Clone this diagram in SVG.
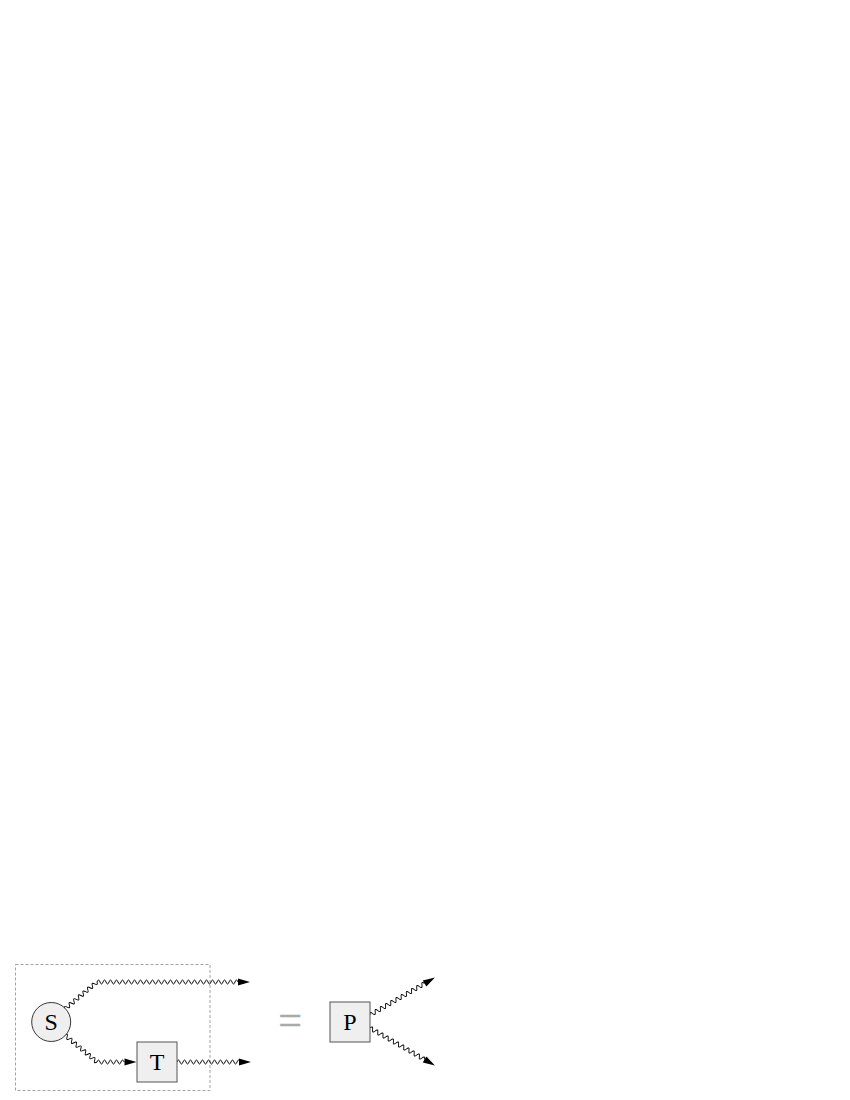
<svg xmlns="http://www.w3.org/2000/svg" xmlns:xlink="http://www.w3.org/1999/xlink" width="850" height="1100" viewBox="0 0 850 1100">
<style>
.wave{fill:none;stroke:#000;stroke-width:0.95;stroke-linejoin:round}
.ah{fill:#000;stroke:none}
.frame{fill:none;stroke:#999;stroke-width:0.9;stroke-dasharray:3,2}
.nodefill{fill:#efefef}
.lbl{font-family:"Liberation Serif","Times New Roman",serif;font-size:24px;fill:#000;text-anchor:middle}
.eq{font-family:"Liberation Serif","Times New Roman",serif;font-size:42px;fill:#aaa;stroke:#aaa;stroke-width:0.5;text-anchor:middle}
</style>
<defs>
<path id="ah" d="M0,-3.6 L12,0 L0,3.6 Z"/>
</defs>
<rect width="850" height="1100" fill="#fff"/>
<rect id="group-frame" class="frame" x="15.5" y="964.5" width="194.5" height="126"/>
<g id="connectors">
  <g id="edge-S-out-top">
    <path class="wave" transform="translate(64.8,1009) rotate(-40)" d="M0,0 q1.5,-4 3,0 t3,0 3,0 3,0 3,0 3,0 3,0 3,0 3,0 3,0 3,0 3,0 3,0 3,0"/>
    <path class="wave" transform="translate(97,982)" d="M0,0 q1.5,-4 3,0 t3,0 3,0 3,0 3,0 3,0 3,0 3,0 3,0 3,0 3,0 3,0 3,0 3,0 3,0 3,0 3,0 3,0 3,0 3,0 3,0 3,0 3,0 3,0 3,0 3,0 3,0 3,0 3,0 3,0 3,0 3,0 3,0 3,0 3,0 3,0 3,0 3,0 3,0 3,0 3,0 3,0 3,0 3,0 3,0 3,0 3,0"/>
    <use xlink:href="#ah" class="ah" transform="translate(238,982)"/>
  </g>
  <g id="edge-S-T">
    <path class="wave" transform="translate(64.8,1035) rotate(40)" d="M0,0 q1.5,-4 3,0 t3,0 3,0 3,0 3,0 3,0 3,0 3,0 3,0 3,0 3,0 3,0 3,0 3,0"/>
    <path class="wave" transform="translate(97,1062)" d="M0,0 q1.5,-4 3,0 t3,0 3,0 3,0 3,0 3,0 3,0 3,0 3,0"/>
    <use xlink:href="#ah" class="ah" transform="translate(124.5,1062)"/>
  </g>
  <g id="edge-T-out">
    <path class="wave" transform="translate(177,1062)" d="M0,0 q1.5,-4 3,0 t3,0 3,0 3,0 3,0 3,0 3,0 3,0 3,0 3,0 3,0 3,0 3,0 3,0 3,0 3,0 3,0 3,0 3,0 3,0 3,0"/>
    <use xlink:href="#ah" class="ah" transform="translate(239,1062)"/>
  </g>
  <g id="edge-P-out-top" transform="translate(370,1015) rotate(-30)">
    <path class="wave" d="M0,0 q1.5,-4 3,0 t3,0 3,0 3,0 3,0 3,0 3,0 3,0 3,0 3,0 3,0 3,0 3,0 3,0 3,0 3,0 3,0 3,0 3,0 3,0 3,0"/>
    <use xlink:href="#ah" class="ah" transform="translate(63,0)"/>
  </g>
  <g id="edge-P-out-bottom" transform="translate(370,1028) rotate(30)">
    <path class="wave" d="M0,0 q1.5,-4 3,0 t3,0 3,0 3,0 3,0 3,0 3,0 3,0 3,0 3,0 3,0 3,0 3,0 3,0 3,0 3,0 3,0 3,0 3,0 3,0 3,0"/>
    <use xlink:href="#ah" class="ah" transform="translate(63,0)"/>
  </g>
</g>
<g id="node-S">
  <circle class="nodefill" cx="51.2" cy="1022" r="19.5" stroke="#222" stroke-width="0.9"/>
  <text class="lbl" x="51.2" y="1030">S</text>
</g>
<g id="node-T">
  <rect class="nodefill" x="137" y="1042" width="40" height="40" stroke="#555" stroke-width="1"/>
  <text class="lbl" x="157" y="1070">T</text>
</g>
<g id="node-P">
  <rect class="nodefill" x="330" y="1002" width="40" height="40" stroke="#555" stroke-width="1"/>
  <text class="lbl" x="350" y="1030">P</text>
</g>
<text id="equals" class="eq" x="290" y="1034">=</text>
</svg>
